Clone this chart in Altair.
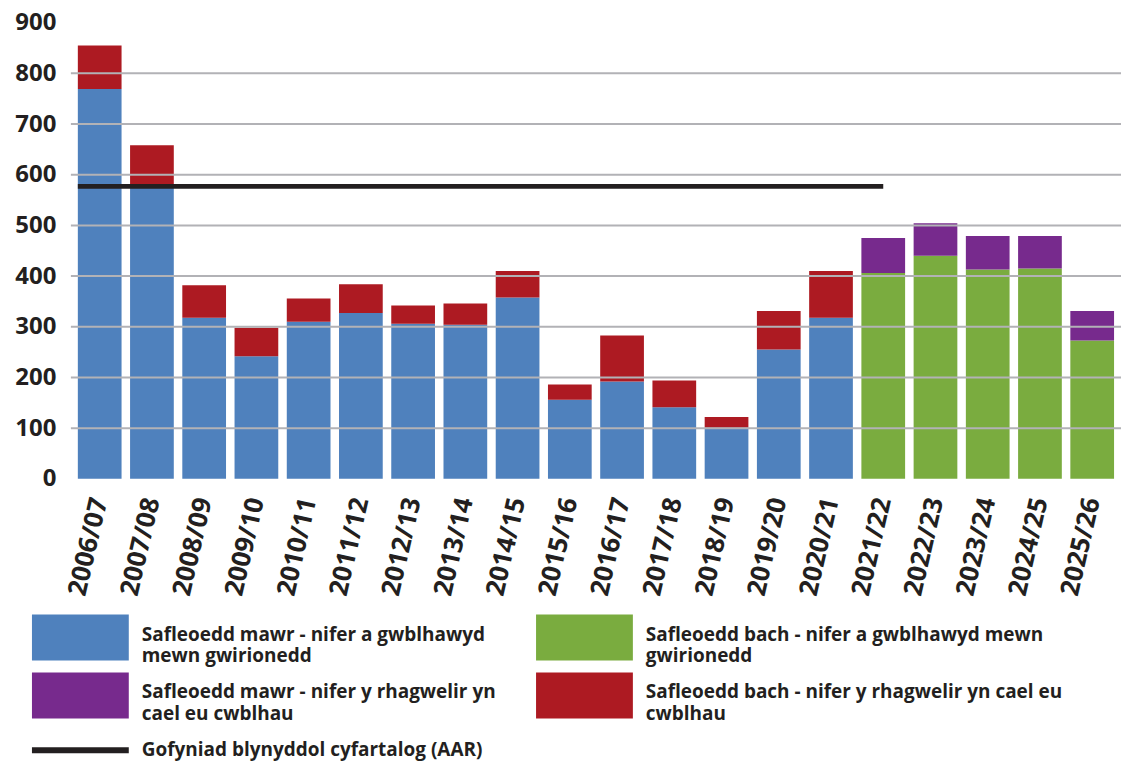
import altair as alt
import pandas as pd

years = ["2006/07", "2007/08", "2008/09", "2009/10", "2010/11", "2011/12", "2012/13",
         "2013/14", "2014/15", "2015/16", "2016/17", "2017/18", "2018/19", "2019/20",
         "2020/21", "2021/22", "2022/23", "2023/24", "2024/25", "2025/26"]

# 2006/07 - 2020/21
blue_values = [769, 575, 318, 242, 310, 327, 306, 304, 358, 156, 192, 141, 101, 255, 318]
red_values = [86, 83, 64, 56, 46, 57, 36, 42, 52, 30, 91, 53, 21, 76, 92]
# 2021/22 - 2025/26
green_values = [406, 440, 413, 415, 273]
purple_values = [69, 64, 66, 64, 58]

aar_value = 577
aar_start = "2006/07"
aar_end = "2021/22"

tick_values = [0, 100, 200, 300, 400, 500, 600, 700, 800, 900]
grid_values = [100, 200, 300, 400, 500, 600, 700, 800]

series_names = ["blue", "red", "green", "purple"]
series_colors = ["#4f81bd", "#ad1a22", "#7aac3f", "#772a8d"]

legend_series = ["blue", "green", "purple", "red"]
legend_labels = [
    "Safleoedd mawr - nifer a gwblhawyd\nmewn gwirionedd",
    "Safleoedd bach - nifer a gwblhawyd mewn\ngwirionedd",
    "Safleoedd mawr - nifer y rhagwelir yn\ncael eu cwblhau",
    "Safleoedd bach - nifer y rhagwelir yn cael eu\ncwblhau",
]
legend_cols = [0, 1, 0, 1]
legend_rows = [0, 0, 1, 1]
aar_label = "Gofyniad blynyddol cyfartalog (AAR)"

FONT = "Open Sans"
TXT = "#231f20"

rows = []
for i, yr in enumerate(years[:15]):
    rows.append({"year": yr, "series": "blue", "value": blue_values[i], "order": 0})
    rows.append({"year": yr, "series": "red", "value": red_values[i], "order": 1})
for i, yr in enumerate(years[15:]):
    rows.append({"year": yr, "series": "green", "value": green_values[i], "order": 0})
    rows.append({"year": yr, "series": "purple", "value": purple_values[i], "order": 1})
df = pd.DataFrame(rows)

color_scale = alt.Scale(domain=series_names, range=series_colors)
x_scale = alt.Scale(domain=years, paddingInner=0.163, paddingOuter=0.133)
y_scale = alt.Scale(domain=[0, 900])

x_axis = alt.Axis(title=None, labelAngle=283, labelFont=FONT, labelFontSize=26,
                  labelFontWeight="bold", labelColor=TXT, ticks=False, domain=False,
                  labelPadding=19, labelOverlap=False, grid=False)
y_axis = alt.Axis(title=None, values=tick_values, grid=False, ticks=False, domain=False,
                  labelFont=FONT, labelFontSize=24, labelFontWeight="bold",
                  labelColor=TXT, labelPadding=15)

bars = alt.Chart(df).mark_bar().encode(
    x=alt.X("year:N", scale=x_scale, axis=x_axis),
    y=alt.Y("value:Q", stack="zero", scale=y_scale, axis=y_axis),
    color=alt.Color("series:N", scale=color_scale, legend=None),
    order=alt.Order("order:Q"),
)

grid = alt.Chart(pd.DataFrame({"value": grid_values})).mark_rule(
    color="#b2b2b6", strokeWidth=2
).encode(y=alt.Y("value:Q", scale=y_scale, axis=y_axis))

aar_df = pd.DataFrame({"year": [aar_start], "end": [aar_end], "value": [aar_value]})
aar = alt.Chart(aar_df).mark_rule(color=TXT, strokeWidth=5).encode(
    x=alt.X("year:N", bandPosition=0, scale=x_scale, axis=x_axis),
    x2=alt.X2("end:N"),
    y=alt.Y("value:Q", scale=y_scale, axis=y_axis),
)

main = alt.layer(bars, grid, aar)

leg_df = pd.DataFrame({"series": legend_series, "label": legend_labels,
                       "col": legend_cols, "row": legend_rows})
lx = alt.Scale(domain=[0, 1], range=[-39, 466])
ly = alt.Scale(domain=[0, 1, 2], range=[593, 651, 729])

leg_rect = alt.Chart(leg_df).mark_rect(x2Offset=97, y2Offset=46).encode(
    x=alt.X("col:Q", scale=lx, axis=None),
    x2="col:Q",
    y=alt.Y("row:Q", scale=ly, axis=None),
    y2="row:Q",
    color=alt.Color("series:N", scale=color_scale, legend=None),
)
leg_text = alt.Chart(leg_df).mark_text(
    align="left", baseline="alphabetic", dx=110, dy=26, lineBreak="\n", lineHeight=21.5,
    font=FONT, fontSize=19, fontWeight="bold", color=TXT
).encode(
    x=alt.X("col:Q", scale=lx, axis=None),
    y=alt.Y("row:Q", scale=ly, axis=None),
    text="label:N",
)

aar_leg_df = pd.DataFrame({"col": [0], "row": [2], "label": [aar_label]})
aar_leg_rule = alt.Chart(aar_leg_df).mark_rule(x2Offset=97, color=TXT, strokeWidth=6).encode(
    x=alt.X("col:Q", scale=lx, axis=None),
    x2="col:Q",
    y=alt.Y("row:Q", scale=ly, axis=None),
)
aar_leg_text = alt.Chart(aar_leg_df).mark_text(
    align="left", baseline="alphabetic", dx=110, dy=6,
    font=FONT, fontSize=19, fontWeight="bold", color=TXT
).encode(
    x=alt.X("col:Q", scale=lx, axis=None),
    y=alt.Y("row:Q", scale=ly, axis=None),
    text="label:N",
)

legend = alt.layer(leg_rect, leg_text, aar_leg_rule, aar_leg_text)

chart = alt.layer(main, legend).resolve_scale(
    x="independent", y="independent", color="shared"
).properties(
    width=1052, height=457,
    padding={"left": 6, "top": 2, "right": 0, "bottom": 4},
).configure_view(stroke=None)

chart.save("out.html", embed_options={"renderer": "svg", "actions": False})
